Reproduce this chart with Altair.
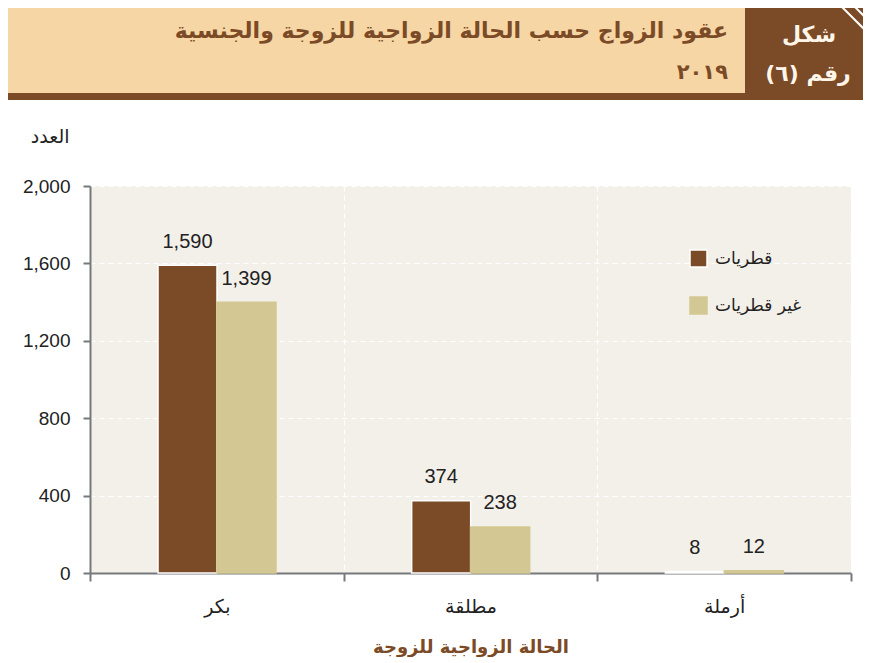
import altair as alt
import pandas as pd

# ---- data ----
categories = ["بكر", "مطلقة", "أرملة"]
series = ["قطريات", "غير قطريات"]
qatari = [1590, 374, 8]
non_qatari = [1399, 238, 12]
y_ticks = [0, 400, 800, 1200, 1600, 2000]

title_text = "عقود الزواج حسب الحالة الزواجية للزوجة والجنسية"
year_text = "٢٠١٩"
fig_word = "شكل"
fig_num = "رقم (٦)"
y_title = "العدد"
x_title = "الحالة الزواجية للزوجة"

BROWN = "#7B4A26"
BEIGE_BAR = "#D3C893"
HEADER_BG = "#F5D6A4"
PLOT_BG = "#F3F0EA"
AXIS_GRAY = "#76797C"
TEXT = "#222222"

rows = []
for i, c in enumerate(categories):
    rows.append({"status": c, "nat": series[0], "count": qatari[i]})
    rows.append({"status": c, "nat": series[1], "count": non_qatari[i]})
df = pd.DataFrame(rows)

W, H = 761, 387
PX, PY = 90, 186  # page position of plot origin (for decorations)

x_enc = alt.X(
    "status:N",
    sort=categories,
    scale=alt.Scale(paddingInner=0, paddingOuter=0),
    axis=alt.Axis(
        title=x_title,
        labelAngle=0,
        tickBand="extent",
        grid=True,
        gridColor="white",
        gridDash=[5, 4],
        gridWidth=1.2,
        domainColor=AXIS_GRAY,
        domainWidth=2,
        tickColor=AXIS_GRAY,
        tickWidth=2,
        tickSize=8,
        labelFont="DejaVu Sans",
        labelFontSize=19,
        labelColor=TEXT,
        labelBaseline="middle",
        labelPadding=25,
        titleFont="DejaVu Sans",
        titleFontSize=18,
        titleFontWeight="bold",
        titleColor=BROWN,
        titleBaseline="middle",
        titleY=74,
    ),
)
# bars occupy the middle part of each category band
xoff_enc = alt.XOffset(
    "nat:N", sort=series, scale=alt.Scale(range=[68, 186], paddingInner=0, paddingOuter=0)
)
y_enc = alt.Y(
    "count:Q",
    scale=alt.Scale(domain=[0, 2000], nice=False),
    axis=alt.Axis(
        values=y_ticks,
        format=",.0f",
        title=y_title,
        titleAngle=0,
        titleAlign="right",
        titleBaseline="middle",
        titleX=-21,
        titleY=-50,
        titleFont="DejaVu Sans",
        titleFontSize=19,
        titleFontWeight="normal",
        titleColor=TEXT,
        grid=True,
        gridColor="white",
        gridDash=[5, 4],
        gridWidth=1.2,
        domainColor=AXIS_GRAY,
        domainWidth=2,
        tickColor=AXIS_GRAY,
        tickWidth=2,
        tickSize=7,
        labelFont="Liberation Sans",
        labelFontSize=19,
        labelColor=TEXT,
        labelPadding=13,
    ),
)

bars = alt.Chart(df).mark_bar().encode(
    x=x_enc,
    xOffset=xoff_enc,
    y=y_enc,
    color=alt.Color(
        "nat:N",
        sort=series,
        scale=alt.Scale(domain=series, range=[BROWN, BEIGE_BAR]),
        legend=alt.Legend(
            title=None,
            orient="none",
            legendX=599,
            legendY=63,
            symbolType="square",
            symbolSize=289,
            symbolStrokeColor="white",
            symbolStrokeWidth=1.5,
            symbolOpacity=1,
            labelFont="DejaVu Sans",
            labelFontSize=17,
            labelColor=TEXT,
            labelOffset=7,
            rowPadding=24,
            padding=0,
        ),
    ),
    stroke=alt.Stroke(
        "nat:N",
        sort=series,
        scale=alt.Scale(domain=series, range=["white", BEIGE_BAR]),
        legend=None,
    ),
    strokeWidth=alt.value(1.5),
)

labels = alt.Chart(df).mark_text(
    font="Liberation Sans", fontSize=20, color=TEXT, baseline="middle", dy=-23.5
).encode(
    x=alt.X("status:N", sort=categories),
    xOffset=alt.XOffset("nat:N", sort=series),
    y="count:Q",
    text=alt.Text("count:Q", format=","),
)

dummy = pd.DataFrame({"k": [0]})
base = alt.Chart(dummy)

header_bg = base.mark_rect(color=HEADER_BG).encode(
    x=alt.value(5 - PX), x2=alt.value(745 - PX),
    y=alt.value(2 - PY), y2=alt.value(94 - PY),
)
header_box = base.mark_rect(color=BROWN).encode(
    x=alt.value(745 - PX), x2=alt.value(871 - PX),
    y=alt.value(2 - PY), y2=alt.value(94 - PY),
)
header_bar = base.mark_rect(color=BROWN).encode(
    x=alt.value(5 - PX), x2=alt.value(871 - PX),
    y=alt.value(93 - PY), y2=alt.value(100 - PY),
)
stripe1 = base.mark_rule(color="white", strokeWidth=2).encode(
    x=alt.value(837 - PX), x2=alt.value(871 - PX),
    y=alt.value(2 - PY), y2=alt.value(36 - PY),
)
stripe2 = base.mark_rule(color="white", strokeWidth=2).encode(
    x=alt.value(850 - PX), x2=alt.value(871 - PX),
    y=alt.value(2 - PY), y2=alt.value(23 - PY),
)
t_title = base.mark_text(
    text=title_text, font="DejaVu Sans", fontWeight="bold", fontSize=22,
    color=BROWN, align="right", baseline="middle",
).encode(x=alt.value(728 - PX), y=alt.value(31 - PY))
t_year = base.mark_text(
    text=year_text, font="DejaVu Sans", fontWeight="bold", fontSize=21,
    color=BROWN, align="right", baseline="middle",
).encode(x=alt.value(728 - PX), y=alt.value(73 - PY))
t_fig = base.mark_text(
    text=fig_word, font="DejaVu Sans", fontWeight="bold", fontSize=22,
    color="#FFF6EA", align="center", baseline="middle",
).encode(x=alt.value(809 - PX), y=alt.value(35 - PY))
t_num = base.mark_text(
    text=fig_num, font="DejaVu Sans", fontWeight="bold", fontSize=22,
    color="#FFF6EA", align="center", baseline="middle",
).encode(x=alt.value(808 - PX), y=alt.value(74 - PY))

chart = alt.layer(
    header_bg, header_box, header_bar, stripe1, stripe2,
    t_title, t_year, t_fig, t_num,
    bars, labels,
).properties(
    width=W,
    height=H,
    autosize=alt.AutoSizeParams(type="none"),
    padding={"left": 82, "top": 178, "right": 12, "bottom": 84},
    background="white",
).configure_view(
    fill=PLOT_BG, stroke=None
)

chart.save("out.html", embed_options={"renderer": "svg", "actions": False})
